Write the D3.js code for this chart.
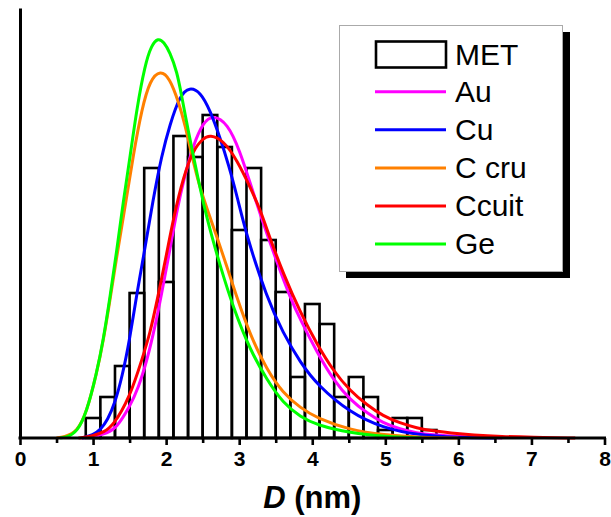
<!DOCTYPE html>
<html>
<head>
<meta charset="utf-8">
<script src="https://cdn.jsdelivr.net/npm/d3@7"></script>
<style>
  html, body { margin: 0; padding: 0; background: #fff; }
  svg { display: block; font-family: "Liberation Sans", Arial, sans-serif; }
</style>
</head>
<body>
<svg id="chart" width="611" height="517"></svg>
<script>
// ---- Data (y in arbitrary units) ----
const binCenters = [1.0,1.2,1.4,1.6,1.8,2.0,2.2,2.4,2.6,2.8,3.0,3.2,3.4,3.6,3.8,4.0,4.2,4.4,4.6,4.8,5.0,5.2,5.4,5.6];
const metCounts  = [20,41,72,145,270,156,302,281,323,291,208,270,198,146,61,134,114,41,61,41,8,20,20,8];
const binWidth = 0.2;

const auCurve = [[0.85,0],[1.0,1],[1.2,5],[1.32,10],[1.5,31],[1.62,50],[1.74,78],[1.85,112],[1.94,145],[2.03,180],[2.1,208],[2.15,228],[2.24,258],[2.37,293],[2.51,316],[2.64,323],[2.84,315],[3.01,287],[3.15,255],[3.29,223],[3.52,175],[3.7,140],[3.84,118],[4.07,85],[4.29,58],[4.52,38],[4.75,25],[4.97,15],[5.2,9],[5.43,5],[5.66,3],[5.89,2],[6.2,1],[6.6,0]];
const cuCurve = [[0.85,0],[1.0,3],[1.1,8],[1.2,18],[1.3,35],[1.4,62],[1.5,98],[1.6,145],[1.7,185],[1.82,238],[1.94,283],[2.05,313],[2.19,343],[2.32,351],[2.47,346],[2.6,328],[2.74,300],[2.86,272],[2.97,242],[3.11,200],[3.38,140],[3.6,105],[3.84,75],[4.07,53],[4.52,25],[4.97,10],[5.43,3],[6.0,0.5],[6.5,0]];
const ccruCurve = [[0.5,0],[0.6,1],[0.78,6],[0.91,25],[1.05,65],[1.14,97],[1.23,137],[1.32,180],[1.44,232],[1.55,283],[1.67,330],[1.78,358],[1.92,368],[2.05,360],[2.17,336],[2.26,313],[2.35,283],[2.45,253],[2.58,225],[2.7,200],[2.83,172],[2.97,140],[3.15,103],[3.38,68],[3.6,45],[3.84,30],[4.06,20],[4.52,8],[4.97,3],[5.5,0.5],[6.0,0]];
const ccuitCurve = [[0.8,0],[1.0,2],[1.15,6],[1.27,12],[1.5,40],[1.68,81],[1.78,105],[1.87,135],[2.01,185],[2.1,220],[2.24,262],[2.37,288],[2.51,300],[2.6,303],[2.78,298],[2.97,278],[3.15,251],[3.29,228],[3.42,200],[3.6,165],[3.84,125],[4.07,93],[4.29,67],[4.52,47],[4.75,33],[4.97,22],[5.2,15],[5.43,10],[5.66,7],[5.89,5],[6.2,3],[6.6,1.5],[7.0,0.7],[7.6,0]];
const geCurve = [[0.55,0],[0.65,1],[0.78,6],[0.91,25],[1.05,65],[1.14,98],[1.23,140],[1.32,185],[1.41,235],[1.51,283],[1.6,330],[1.71,373],[1.8,393],[1.89,400],[1.97,396],[2.05,386],[2.15,366],[2.21,343],[2.28,316],[2.35,290],[2.43,262],[2.53,228],[2.64,198],[2.74,172],[2.92,130],[3.15,88],[3.38,58],[3.6,35],[3.84,21],[4.06,13],[4.52,5],[5.0,1.5],[5.5,0]];

const seriesNames  = ["Au","Cu","C cru","Ccuit","Ge"];
const seriesColors = ["#ff00ff","#0000ff","#ff8000","#ff0000","#00ff00"];
const seriesData   = [auCurve, cuCurve, ccruCurve, ccuitCurve, geCurve];
const metLabel = "MET";
const xTickValues = [0,1,2,3,4,5,6,7,8];
const xMinorTicks = [0.5,1.5,2.5,3.5,4.5,5.5,6.5,7.5];

// ---- Scales ----
const svg = d3.select("#chart");
const x = d3.scaleLinear().domain([0, 8]).range([20, 604.5]);
const y = d3.scaleLinear().domain([0, 430]).range([438, 8]);

// ---- Histogram bars ----
svg.append("g").selectAll("rect")
  .data(binCenters.map((c, i) => ({c, v: metCounts[i]})))
  .join("rect")
  .attr("x", d => x(d.c - binWidth / 2))
  .attr("y", d => y(d.v))
  .attr("width", d => x(d.c + binWidth / 2) - x(d.c - binWidth / 2))
  .attr("height", d => y(0) - y(d.v))
  .attr("fill", "none")
  .attr("stroke", "#000")
  .attr("stroke-width", 2.6);

// ---- Curves ----
const line = d3.line().x(d => x(d[0])).y(d => y(d[1])).curve(d3.curveBasis);
seriesData.forEach((data, i) => {
  svg.append("path")
    .datum(data)
    .attr("d", line)
    .attr("fill", "none")
    .attr("stroke", seriesColors[i])
    .attr("stroke-width", 3);
});

// ---- Axes ----
const xAxis = d3.axisBottom(x).tickValues(xTickValues).tickFormat(d3.format("d")).tickSize(7).tickPadding(6);
const gx = svg.append("g").attr("transform", `translate(0,${y(0)})`).call(xAxis);
gx.select(".domain").attr("stroke", "#000").attr("stroke-width", 3).attr("d", `M${x(0) - 1.5},0H${x(8) + 1.5}`);
gx.selectAll(".tick line").attr("stroke", "#000").attr("stroke-width", 2.6);
gx.selectAll(".tick text").attr("font-size", 21).attr("font-weight", "bold")
  .attr("font-family", "'Liberation Sans', Arial, sans-serif").attr("fill", "#000");
const gxm = svg.append("g").attr("transform", `translate(0,${y(0)})`)
  .call(d3.axisBottom(x).tickValues(xMinorTicks).tickFormat("").tickSize(5));
gxm.select(".domain").remove();
gxm.selectAll(".tick line").attr("stroke", "#000").attr("stroke-width", 2.6);

// left axis line (no ticks)
const gy = svg.append("g").attr("transform", `translate(${x(0)},0)`)
  .call(d3.axisLeft(y).tickValues([]).tickSizeOuter(0));
gy.select(".domain").attr("stroke", "#000").attr("stroke-width", 3);

// x axis title
const title = svg.append("text")
  .attr("x", x(4.0)).attr("y", 508)
  .attr("text-anchor", "middle")
  .attr("font-size", 31).attr("font-weight", "bold").attr("fill", "#000");
title.append("tspan").attr("font-style", "italic").text("D");
title.append("tspan").text(" (nm)");

// ---- Legend ----
const lg = svg.append("g");
lg.append("rect").attr("x", 346).attr("y", 32).attr("width", 224).attr("height", 246).attr("fill", "#000");
lg.append("rect").attr("x", 339.5).attr("y", 25.5).attr("width", 223).attr("height", 246)
  .attr("fill", "#fff").attr("stroke", "#aaa").attr("stroke-width", 1);
lg.append("rect").attr("x", 376).attr("y", 41.5).attr("width", 70).attr("height", 26)
  .attr("fill", "none").attr("stroke", "#000").attr("stroke-width", 2.6);
lg.append("text").attr("x", 455).attr("y", 65).attr("font-size", 30).attr("fill", "#000").text(metLabel);
seriesNames.forEach((name, i) => {
  const ly = 91.7 + i * 38.1;
  lg.append("line").attr("x1", 375).attr("x2", 446).attr("y1", ly).attr("y2", ly)
    .attr("stroke", seriesColors[i]).attr("stroke-width", 3);
  lg.append("text").attr("x", 455).attr("y", ly + 10).attr("font-size", 30).attr("fill", "#000").text(name);
});
</script>
</body>
</html>
